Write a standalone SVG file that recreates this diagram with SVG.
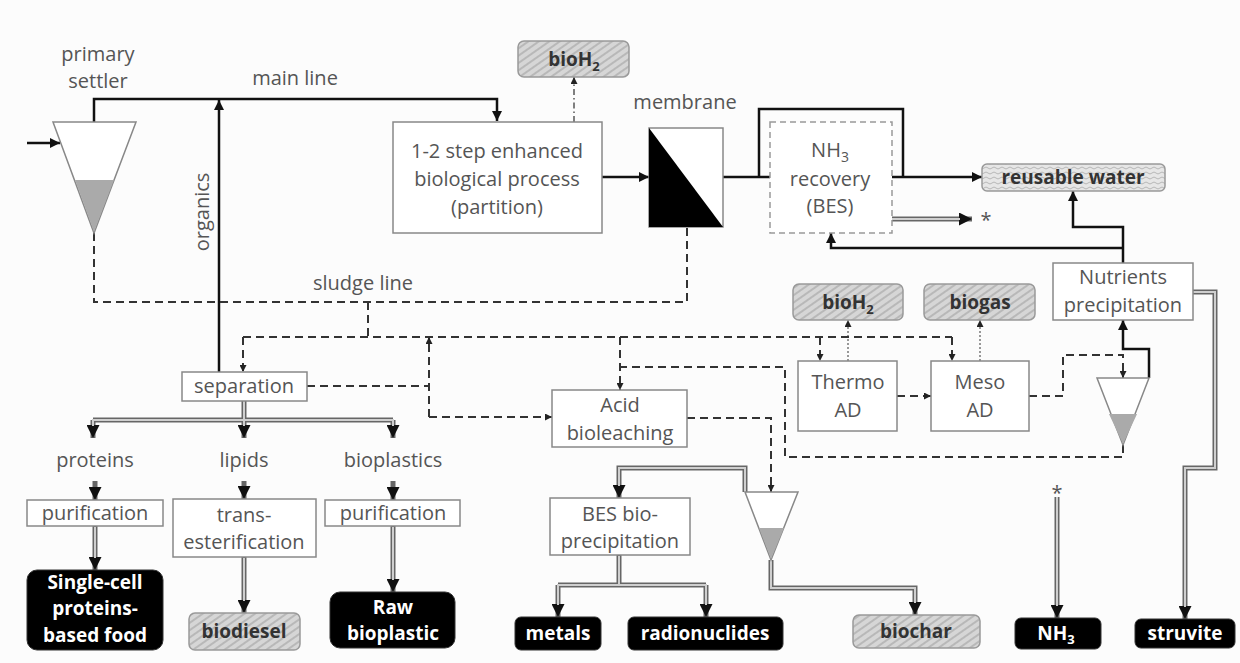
<svg xmlns="http://www.w3.org/2000/svg" width="1240" height="663" viewBox="0 0 1240 663">
<defs>
<style>
.t{font-family:"Open Sans","Liberation Sans",sans-serif;font-size:20px;fill:#555;text-anchor:middle}
.b{font-family:"Open Sans","Liberation Sans",sans-serif;font-size:19px;font-weight:bold;fill:#333;text-anchor:middle}
.w{font-family:"Open Sans","Liberation Sans",sans-serif;font-size:19px;font-weight:bold;fill:#fff;text-anchor:middle}
.box{fill:#fff;stroke:#888;stroke-width:1.5}
.dbox{fill:#fff;stroke:#999;stroke-width:1.5;stroke-dasharray:6,4}
.hat{fill:url(#hatch);stroke:#999;stroke-width:1.5}
.wav{fill:url(#wave);stroke:#999;stroke-width:1.5}
.blk{fill:#000;stroke:#333;stroke-width:1}
.s{fill:none;stroke:#111;stroke-width:2.5}
.d{fill:none;stroke:#333;stroke-width:2;stroke-dasharray:8,5}
.dd{fill:none;stroke:#555;stroke-width:1.5;stroke-dasharray:6,3,1.5,3}
.dt{fill:none;stroke:#777;stroke-width:1.5;stroke-dasharray:2,2}
.go{fill:none;stroke:#666;stroke-width:5}
.gi{fill:none;stroke:#cfcfcf;stroke-width:2}
.set{fill:#fff;stroke:#888;stroke-width:1.5}
.sl{fill:#aaa;stroke:none}
</style>
<pattern id="hatch" patternUnits="userSpaceOnUse" width="6" height="6" patternTransform="rotate(-35)">
<rect width="6" height="6" fill="#d6d6d6"/>
<line x1="0" y1="1" x2="6" y2="1" stroke="#9a9a9a" stroke-width="1"/>
</pattern>
<pattern id="wave" patternUnits="userSpaceOnUse" width="8" height="5">
<rect width="8" height="5" fill="#e6e6e6"/>
<path d="M0,3 Q2,1 4,3 T8,3" fill="none" stroke="#aaa" stroke-width="0.8"/>
</pattern>
<marker id="a" viewBox="0 0 10 10" refX="10" refY="5" markerWidth="11" markerHeight="10" markerUnits="userSpaceOnUse" orient="auto">
<path d="M0,0 L10,5 L0,10z" fill="#111"/>
</marker>
<marker id="as" viewBox="0 0 10 10" refX="10" refY="5" markerWidth="8" markerHeight="7" markerUnits="userSpaceOnUse" orient="auto">
<path d="M0,0 L10,5 L0,10z" fill="#222"/>
</marker>
<marker id="ag" viewBox="0 0 10 10" refX="10" refY="5" markerWidth="13" markerHeight="13" markerUnits="userSpaceOnUse" orient="auto">
<path d="M0,0 L10,5 L0,10z" fill="#111"/>
</marker>
</defs>
<rect width="1240" height="663" fill="#fcfcfc"/>

<g id="connectors">
<!-- solid black -->
<path class="s" d="M27,143 H60" marker-end="url(#a)"/>
<path class="s" d="M94,122 V99 H497 V121" marker-end="url(#a)"/>
<path class="s" d="M219,372 V100" marker-end="url(#a)"/>
<path class="s" d="M602,177 H649" marker-end="url(#a)"/>
<path class="s" d="M723,177 H770"/>
<path class="s" d="M759,177 V109 H903 V177"/>
<path class="s" d="M892,177 H982" marker-end="url(#a)"/>
<path class="s" d="M1123,263 V227 H1073 V191" marker-end="url(#a)"/>
<path class="s" d="M1123,248 H831 V233" marker-end="url(#a)"/>
<path class="s" d="M1149,378 V349 H1123 V320" marker-end="url(#a)"/>
<!-- gas -->
<path class="dd" d="M574,122 V77" marker-end="url(#as)"/>
<path class="dt" d="M848,361 V320" marker-end="url(#as)"/>
<path class="dt" d="M980,361 V320" marker-end="url(#as)"/>
<!-- dashed sludge -->
<path class="d" d="M94,233 V302 H687 V227"/>
<path class="d" d="M368,302 V337"/>
<path class="d" d="M243,337 H952"/>
<path class="d" d="M243,337 V372" marker-end="url(#as)"/>
<path class="d" d="M820,337 V361" marker-end="url(#as)"/>
<path class="d" d="M952,337 V361" marker-end="url(#as)"/>
<path class="d" d="M620,337 V390" marker-end="url(#as)"/>
<path class="d" d="M1123,445 V457 H785 V367 H620"/>
<path class="d" d="M307,386 H429"/>
<path class="d" d="M429,417 V337" marker-end="url(#as)"/>
<path class="d" d="M429,417 H552" marker-end="url(#as)"/>
<path class="d" d="M687,418 H771 V492" marker-end="url(#as)"/>
<path class="d" d="M897,396 H931" marker-end="url(#as)"/>
<path class="d" d="M1029,396 H1063 V355 H1123 V378" marker-end="url(#as)"/>
<!-- gray double -->
<path class="go" d="M892,219 H972" marker-end="url(#ag)"/>
<path class="gi" d="M892,219 H960"/>
<path class="go" d="M1193,292 H1215 V468 H1185 V619" marker-end="url(#ag)"/>
<path class="gi" d="M1193,292 H1215 V468 H1185 V607"/>
<path class="go" d="M1057,497 V618" marker-end="url(#ag)"/>
<path class="gi" d="M1057,497 V606"/>
<path class="go" d="M244,401 V420 M93,420 H393"/>
<path class="go" d="M93,420 V438" marker-end="url(#ag)"/>
<path class="go" d="M244,420 V438" marker-end="url(#ag)"/>
<path class="go" d="M393,420 V438" marker-end="url(#ag)"/>
<path class="gi" d="M244,401 V420 M93,426 V420 H393 V426 M244,420 V426"/>
<path class="go" d="M95,481 V500" marker-end="url(#ag)"/>
<path class="go" d="M244,481 V499" marker-end="url(#ag)"/>
<path class="go" d="M393,481 V500" marker-end="url(#ag)"/>
<path class="go" d="M95,526 V570" marker-end="url(#ag)"/>
<path class="gi" d="M95,527 V558"/>
<path class="go" d="M244,557 V613" marker-end="url(#ag)"/>
<path class="gi" d="M244,558 V601"/>
<path class="go" d="M393,526 V592" marker-end="url(#ag)"/>
<path class="gi" d="M393,527 V580"/>
<path class="go" d="M745,492 V468 H619 V498" marker-end="url(#ag)"/>
<path class="gi" d="M745,492 V468 H619 V486"/>
<path class="go" d="M619,555 V585 M558,585 H706"/>
<path class="go" d="M558,585 V617" marker-end="url(#ag)"/>
<path class="go" d="M706,585 V617" marker-end="url(#ag)"/>
<path class="gi" d="M619,556 V585 M558,605 V585 H706 V605"/>
<path class="go" d="M771,560 V588 H915 V615" marker-end="url(#ag)"/>
<path class="gi" d="M771,560 V588 H915 V603"/>
</g>

<g id="primary-settler">
<polygon class="set" points="53,122 136,122 94,233"/>
<polygon class="sl" points="75,180 114,180 94,232"/>
<text class="t" x="98" y="61">primary</text>
<text class="t" x="98" y="88">settler</text>
</g>
<text class="t" x="295" y="85">main line</text>
<text class="t" transform="translate(209,212) rotate(-90)">organics</text>
<text class="t" x="363" y="290">sludge line</text>

<g id="bio-process">
<rect class="box" x="393" y="122" width="209" height="111"/>
<text class="t" x="497" y="158">1-2 step enhanced</text>
<text class="t" x="497" y="186">biological process</text>
<text class="t" x="497" y="214">(partition)</text>
</g>
<g id="bioH2-top">
<rect class="hat" x="518" y="41" width="111" height="36" rx="6"/>
<text class="b" x="574" y="66">bioH<tspan font-size="13" dy="5">2</tspan></text>
</g>
<g id="membrane">
<rect x="649" y="128" width="74" height="99" fill="#fff" stroke="#888" stroke-width="1.5"/>
<polygon points="649,128 649,227 723,227" fill="#000"/>
<text class="t" x="685" y="109">membrane</text>
</g>
<g id="nh3-recovery">
<rect class="dbox" x="770" y="122" width="122" height="111"/>
<text class="t" x="830" y="157">NH<tspan font-size="14" dy="5">3</tspan></text>
<text class="t" x="830" y="186">recovery</text>
<text class="t" x="830" y="213">(BES)</text>
</g>
<text class="t" x="986" y="227" font-size="16">*</text>
<g id="reusable-water">
<rect class="wav" x="982" y="164" width="183" height="27" rx="5"/>
<text class="b" x="1073" y="184">reusable water</text>
</g>
<g id="nutrients">
<rect class="box" x="1053" y="263" width="140" height="57"/>
<text class="t" x="1123" y="284">Nutrients</text>
<text class="t" x="1123" y="312">precipitation</text>
</g>
<g id="bioH2-ad">
<rect class="hat" x="793" y="284" width="110" height="36" rx="6"/>
<text class="b" x="848" y="309">bioH<tspan font-size="13" dy="5">2</tspan></text>
</g>
<g id="biogas">
<rect class="hat" x="924" y="284" width="111" height="36" rx="6"/>
<text class="b" x="980" y="309">biogas</text>
</g>
<g id="thermo-ad">
<rect class="box" x="798" y="361" width="99" height="70"/>
<text class="t" x="848" y="389">Thermo</text>
<text class="t" x="848" y="417">AD</text>
</g>
<g id="meso-ad">
<rect class="box" x="931" y="361" width="98" height="70"/>
<text class="t" x="980" y="389">Meso</text>
<text class="t" x="980" y="417">AD</text>
</g>
<g id="settler-ad">
<polygon class="set" points="1097,378 1149,378 1123,445"/>
<polygon class="sl" points="1109,414 1137,414 1123,444"/>
</g>
<g id="separation">
<rect class="box" x="182" y="372" width="125" height="29"/>
<text class="t" x="244" y="393">separation</text>
</g>
<g id="acid-bioleaching">
<rect class="box" x="552" y="390" width="135" height="57"/>
<text class="t" x="620" y="412">Acid</text>
<text class="t" x="620" y="440">bioleaching</text>
</g>
<g id="settler-acid">
<polygon class="set" points="745,492 798,492 771,560"/>
<polygon class="sl" points="759,528 784,528 771,559"/>
</g>
<g id="bes-bioprecipitation">
<rect class="box" x="550" y="498" width="140" height="57"/>
<text class="t" x="620" y="521">BES bio-</text>
<text class="t" x="620" y="548">precipitation</text>
</g>
<g id="metals">
<rect class="blk" x="515" y="617" width="86" height="33" rx="6"/>
<text class="w" x="558" y="640">metals</text>
</g>
<g id="radionuclides">
<rect class="blk" x="628" y="617" width="155" height="33" rx="6"/>
<text class="w" x="705" y="640">radionuclides</text>
</g>
<g id="biochar">
<rect class="hat" x="853" y="615" width="127" height="33" rx="6"/>
<text class="b" x="916" y="638">biochar</text>
</g>
<text class="t" x="1057" y="500" font-size="16">*</text>
<g id="nh3-product">
<rect class="blk" x="1015" y="618" width="86" height="31" rx="6"/>
<text class="w" x="1056" y="640">NH<tspan font-size="13" dy="4">3</tspan></text>
</g>
<g id="struvite">
<rect class="blk" x="1135" y="619" width="100" height="29" rx="6"/>
<text class="w" x="1185" y="640">struvite</text>
</g>
<g id="proteins"><text class="t" x="95" y="467">proteins</text></g>
<g id="lipids"><text class="t" x="244" y="467">lipids</text></g>
<g id="bioplastics"><text class="t" x="393" y="467">bioplastics</text></g>
<g id="purification-proteins">
<rect class="box" x="27" y="500" width="136" height="26"/>
<text class="t" x="95" y="520">purification</text>
</g>
<g id="transesterification">
<rect class="box" x="173" y="499" width="143" height="58"/>
<text class="t" x="244" y="522">trans-</text>
<text class="t" x="244" y="549">esterification</text>
</g>
<g id="purification-bioplastics">
<rect class="box" x="325" y="500" width="135" height="26"/>
<text class="t" x="393" y="520">purification</text>
</g>
<g id="single-cell">
<rect class="blk" x="27" y="570" width="136" height="80" rx="10"/>
<text class="w" x="95" y="589">Single-cell</text>
<text class="w" x="95" y="615">proteins-</text>
<text class="w" x="95" y="642">based food</text>
</g>
<g id="biodiesel">
<rect class="hat" x="189" y="613" width="111" height="37" rx="6"/>
<text class="b" x="244" y="638">biodiesel</text>
</g>
<g id="raw-bioplastic">
<rect class="blk" x="330" y="592" width="125" height="56" rx="10"/>
<text class="w" x="393" y="614">Raw</text>
<text class="w" x="393" y="640">bioplastic</text>
</g>
</svg>
